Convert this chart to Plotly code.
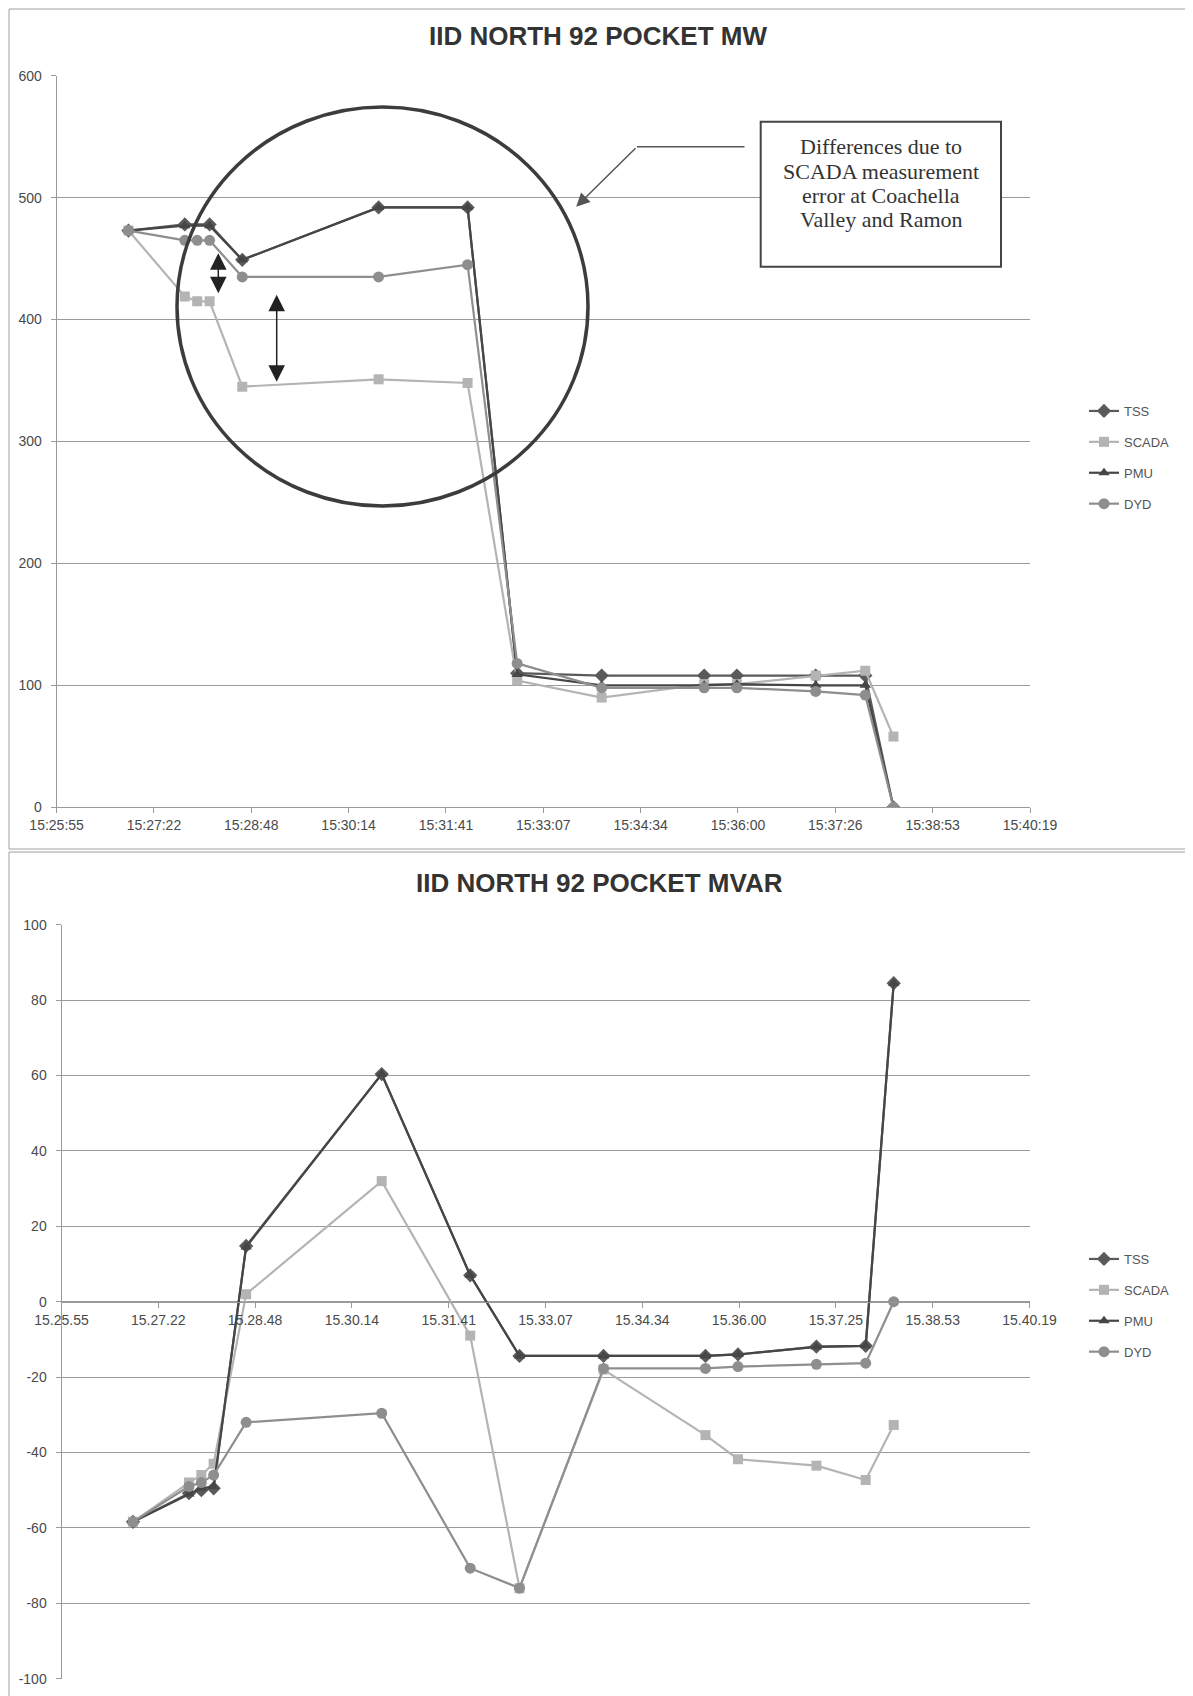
import plotly.graph_objects as go

# page body has an 8px default margin; build the figure to fit the rest
OFF = 8
W, H = 1193 - OFF, 1696 - OFF

# ---------------- data ----------------
times = ["15:26:59", "15:27:49", "15:28:00", "15:28:11", "15:28:40", "15:30:41", "15:32:00",
         "15:32:44", "15:33:59", "15:35:30", "15:35:59", "15:37:09", "15:37:53", "15:38:18"]

tick_labels_mw = ["15:25:55", "15:27:22", "15:28:48", "15:30:14", "15:31:41", "15:33:07",
                  "15:34:34", "15:36:00", "15:37:26", "15:38:53", "15:40:19"]
tick_labels_mvar = ["15.25.55", "15.27.22", "15.28.48", "15.30.14", "15.31.41", "15.33.07",
                    "15.34.34", "15.36.00", "15.37.25", "15.38.53", "15.40.19"]

y_ticks_mw = [0, 100, 200, 300, 400, 500, 600]
y_ticks_mvar = [-100, -80, -60, -40, -20, 0, 20, 40, 60, 80, 100]

tss_mw = [473, 478, None, 478, 449, 492, 492, 110, 108, 108, 108, 108, 108, 0]
scada_mw = [473, 419, 415, 415, 345, 351, 348, 104, 90, 101, 101, 108, 112, 58]
pmu_mw = [473, 477, None, 477, 449, 492, 492, 109, 100, 100, 101, 100, 100, 0]
dyd_mw = [473, 465, 465, 465, 435, 435, 445, 118, 98, 98, 98, 95, 92, 0]

tss_mvar = [-58.4, -50.8, -50, -49.5, 14.8, 60.4, 7, -14.4, -14.4, -14.4, -14, -11.9, -11.7, 84.5]
scada_mvar = [-58.4, -48, -46, -43, 2, 32, -9, -76, -18, -35.4, -41.8, -43.5, -47.3, -32.7]
pmu_mvar = [-58.4, -51, -49.5, -49, 14.5, 60.4, 7, -14.4, -14.4, -14.4, -14, -12, -11.7, 84.5]
dyd_mvar = [-58.4, -49, -48, -46, -32, -29.6, -70.7, -76, -17.7, -17.7, -17.2, -16.6, -16.3, 0]

series_names = ["TSS", "SCADA", "PMU", "DYD"]

callout_lines = ["Differences due to", "SCADA measurement", "error at Coachella", "Valley and Ramon"]

# ---------------- helpers ----------------
def secs(s):
    h, m, sec = map(int, s.split(":"))
    return h * 3600 + m * 60 + sec

def px(x):
    return (x - OFF) / W

def py(y):
    return 1 - (y - OFF) / H

xs = [secs(t) for t in times]
x_start = 0.643 * 86400     # Excel date-axis minimum (15:25:55)
step = 0.001 * 86400        # Excel major unit
tickvals = [x_start + i * step for i in range(11)]

styles = {
    "TSS": dict(symbol="diamond", color="#5a5a5a", size=11),
    "SCADA": dict(symbol="square", color="#b4b4b4", size=10),
    "PMU": dict(symbol="triangle-up", color="#464646", size=10),
    "DYD": dict(symbol="circle", color="#8e8e8e", size=11),
}

fig = go.Figure()

for name, vals in zip(series_names, [tss_mw, scada_mw, pmu_mw, dyd_mw]):
    st = styles[name]
    fig.add_trace(go.Scatter(
        x=xs, y=vals, name=name, mode="lines+markers", connectgaps=True,
        line=dict(color=st["color"], width=2.2),
        marker=dict(symbol=st["symbol"], size=st["size"], color=st["color"]),
        xaxis="x", yaxis="y", legend="legend", legendgroup="a" + name,
    ))

for name, vals in zip(series_names, [tss_mvar, scada_mvar, pmu_mvar, dyd_mvar]):
    st = styles[name]
    fig.add_trace(go.Scatter(
        x=xs, y=vals, name=name, mode="lines+markers", connectgaps=True,
        line=dict(color=st["color"], width=2.2),
        marker=dict(symbol=st["symbol"], size=st["size"], color=st["color"]),
        xaxis="x2", yaxis="y2", legend="legend2", legendgroup="b" + name,
    ))

tickfont = dict(family="Liberation Sans, Arial, sans-serif", size=14, color="#4a4a4a")
axcol = "#9a9a9a"

common_x = dict(range=[tickvals[0], tickvals[-1]], tickvals=tickvals, showgrid=False,
                showline=True, linecolor=axcol, linewidth=1, ticks="outside", ticklen=5,
                tickcolor=axcol, tickfont=tickfont, zeroline=False, automargin=False,
                fixedrange=True)
common_y = dict(showgrid=True, gridcolor=axcol, gridwidth=1, showline=True, linecolor=axcol,
                ticks="outside", ticklen=5, tickcolor=axcol, tickfont=tickfont,
                zeroline=False, automargin=False, ticklabelstandoff=6)

legend_common = dict(xanchor="left", yanchor="top", bgcolor="rgba(0,0,0,0)",
                     font=dict(family="Liberation Sans, Arial, sans-serif", size=13, color="#555"),
                     tracegroupgap=11, itemwidth=30, traceorder="grouped")

fig.update_layout(
    width=W, height=H, margin=dict(l=0, r=0, t=0, b=0),
    paper_bgcolor="white", plot_bgcolor="white",
    xaxis=dict(domain=[px(56.6), px(1030)], anchor="y", ticktext=tick_labels_mw, **common_x),
    yaxis=dict(domain=[py(807.3), py(75.7)], anchor="x", range=[0, 600],
               tickvals=y_ticks_mw, ticktext=[str(v) for v in y_ticks_mw], **common_y),
    xaxis2=dict(domain=[px(61.5), px(1029.5)], anchor="free", position=py(1301.7),
                ticktext=tick_labels_mvar, **common_x),
    yaxis2=dict(domain=[py(1678.6), py(924.8)], anchor="x2", range=[-100, 100],
                tickvals=y_ticks_mvar, ticktext=[str(v) for v in y_ticks_mvar], **common_y),
    legend=dict(x=px(1084), y=py(396), **legend_common),
    legend2=dict(x=px(1084), y=py(1244), **legend_common),
    showlegend=True,
)

shapes = []
# chart borders
shapes.append(dict(type="rect", xref="paper", yref="paper", x0=px(9), x1=px(1190),
                   y0=py(849), y1=py(9), line=dict(color="#a0a0a0", width=1), layer="below"))
shapes.append(dict(type="rect", xref="paper", yref="paper", x0=px(9), x1=px(1190),
                   y0=py(1710), y1=py(852), line=dict(color="#a0a0a0", width=1), layer="below"))
# big ellipse
shapes.append(dict(type="circle", xref="paper", yref="paper", x0=px(177), x1=px(588),
                   y0=py(506), y1=py(107), line=dict(color="#3c3c3c", width=3.5)))
# callout box
shapes.append(dict(type="rect", xref="paper", yref="paper", x0=px(760.7), x1=px(1001),
                   y0=py(266.7), y1=py(121.7), line=dict(color="#444", width=2),
                   fillcolor="white", layer="above"))
# callout leader (horizontal part)
shapes.append(dict(type="line", xref="paper", yref="paper", x0=px(744.5), x1=px(637),
                   y0=py(146.7), y1=py(146.7), line=dict(color="#555", width=1.5)))

annotations = []
titlefont = dict(family="Liberation Sans, Arial, sans-serif", size=26, color="#333")
annotations.append(dict(text="<b>IID NORTH 92 POCKET MW</b>", xref="paper", yref="paper",
                        x=px(598), y=py(36), showarrow=False, font=titlefont,
                        xanchor="center", yanchor="middle"))
annotations.append(dict(text="<b>IID NORTH 92 POCKET MVAR</b>", xref="paper", yref="paper",
                        x=px(599), y=py(882.5), showarrow=False, font=titlefont,
                        xanchor="center", yanchor="middle"))
for i, line in enumerate(callout_lines):
    annotations.append(dict(text=line, xref="paper", yref="paper", x=px(881),
                            y=py(146.7 + i * 24.4), showarrow=False,
                            font=dict(family="Liberation Serif, Times New Roman, serif",
                                      size=22, color="#333"),
                            xanchor="center", yanchor="middle"))
# leader arrow
annotations.append(dict(text="", xref="paper", yref="paper", x=px(576.2), y=py(206.7),
                        ax=637 - 576.2, ay=146.7 - 206.7, showarrow=True, arrowhead=2,
                        arrowsize=1.8, arrowwidth=1.5, arrowcolor="#555", standoff=0))
# double headed arrows
for (ax_, y_top, y_bot) in [(218.3, 251.7, 293.3), (276.7, 293.3, 381.7)]:
    annotations.append(dict(text="", xref="paper", yref="paper", x=px(ax_), y=py(y_bot),
                            ax=0, ay=-(y_bot - y_top), showarrow=True, arrowhead=2,
                            startarrowhead=2, arrowside="end+start", arrowsize=2.2,
                            startarrowsize=2.2, arrowwidth=1.5, arrowcolor="#222",
                            standoff=0, startstandoff=0))

fig.update_layout(shapes=shapes, annotations=annotations)
fig.write_html("out.html")
